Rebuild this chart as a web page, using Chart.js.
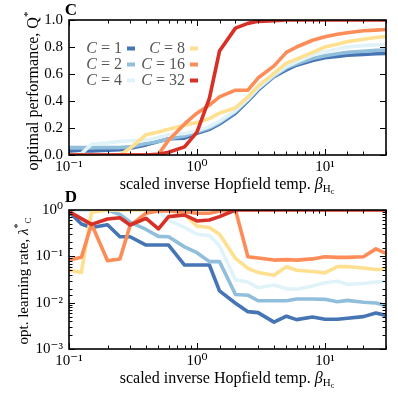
<!DOCTYPE html>
<html><head><meta charset="utf-8">
<script src="https://cdn.jsdelivr.net/npm/chart.js@4"></script>
<style>html,body{margin:0;padding:0;background:#fff;overflow:hidden;width:398px;height:398px}
canvas{position:absolute;left:0}</style></head>
<body>
<canvas id="c1" width="398" height="198" style="top:0px"></canvas>
<canvas id="c2" width="398" height="212" style="top:186px"></canvas>
<script>
// ---- data ----
const betaValues = [0.1,0.125,0.15,0.2,0.25,0.3,0.4,0.5,0.6,0.8,1,1.25,1.5,2,2.5,3,4,5,6,8,10,12.5,15,20,25,30];
const capacityLabels = ['1','2','4','8','16','32'];

const perfC1  = [0.03,0.03,0.03,0.035,0.04,0.05,0.075,0.10,0.12,0.125,0.16,0.19,0.23,0.31,0.40,0.48,0.58,0.63,0.665,0.70,0.72,0.73,0.74,0.745,0.75,0.753];
const perfC2  = [0.055,0.055,0.055,0.055,0.055,0.06,0.085,0.10,0.12,0.14,0.17,0.20,0.24,0.32,0.41,0.49,0.585,0.645,0.675,0.715,0.735,0.75,0.76,0.768,0.775,0.778];
const perfC4  = [0.0,0.01,0.08,0.09,0.10,0.105,0.11,0.13,0.15,0.16,0.18,0.21,0.25,0.33,0.415,0.495,0.595,0.655,0.69,0.74,0.765,0.785,0.80,0.81,0.815,0.82];
const perfC8  = [0,0,0,0,0,0.05,0.15,0.17,0.19,0.22,0.24,0.27,0.31,0.35,0.43,0.51,0.605,0.68,0.71,0.76,0.80,0.82,0.84,0.857,0.87,0.878];
const perfC16 = [0,0,0,0,0,0,0,0.005,0.11,0.23,0.31,0.37,0.43,0.48,0.48,0.57,0.66,0.76,0.80,0.85,0.876,0.895,0.906,0.92,0.925,0.93];
const perfC32 = [0,0,0,0,0,0,0,0.005,0.02,0.06,0.17,0.42,0.77,0.94,0.975,0.99,0.995,1,1,1,1,1,1,1,1,1];

const lrC1  = [0.92,0.5,0.42,0.48,0.265,0.265,0.175,0.175,0.175,0.065,0.065,0.065,0.018,0.0097,0.0064,0.0061,0.0038,0.0051,0.0043,0.0049,0.0044,0.0044,0.0046,0.005,0.006,0.0053];
const lrC2  = [1,1,1,1,0.8,0.55,0.38,0.27,0.265,0.16,0.12,0.077,0.077,0.015,0.0145,0.011,0.011,0.011,0.012,0.012,0.0118,0.0105,0.0112,0.0102,0.0098,0.0087];
const lrC4  = [1,1,1,1,1,1,1,0.95,0.6,0.42,0.3,0.28,0.17,0.031,0.028,0.021,0.024,0.02,0.0195,0.023,0.027,0.029,0.025,0.026,0.028,0.029];
const lrC8  = [0.05,0.045,0.9,1,1,1,1,1,1,0.8,0.45,0.42,0.3,0.09,0.055,0.045,0.039,0.06,0.05,0.047,0.044,0.06,0.06,0.056,0.052,0.053];
const lrC16 = [0.083,0.095,0.5,0.08,0.088,0.46,0.85,0.95,0.95,0.92,0.85,0.85,0.95,1,0.098,0.092,0.083,0.085,0.083,0.088,0.098,0.095,0.095,0.098,0.145,0.116];
const lrC32 = [0.92,0.65,0.49,0.64,0.68,0.475,0.66,0.39,0.72,0.78,0.58,0.61,0.72,1,1,1,1,1,1,1,1,1,1,1,1,1];

const perfSeries = [perfC1,perfC2,perfC4,perfC8,perfC16,perfC32];
const lrSeries = [lrC1,lrC2,lrC4,lrC8,lrC16,lrC32];

// ---- styles ----
const colors = ['#4575b4','#91bfdb','#e0f3f8','#fee090','#fc8d59','#d73027'];
const FONT = '"Liberation Serif", "DejaVu Serif", serif';
const SUP = {'-':'\u207B','0':'\u2070','1':'\u00B9','2':'\u00B2','3':'\u00B3'};

function isPow10(v){ const l = Math.log10(v); return Math.abs(l-Math.round(l))<1e-6; }
function powLabel(v){ const e = Math.round(Math.log10(v)); return '10' + String(e).split('').map(c=>SUP[c]).join(''); }

function makeDatasets(series){
  return series.map((arr,i)=>({
    label: 'C = ' + capacityLabels[i],
    data: betaValues.map((b,j)=>({x:b,y:arr[j]})),
    borderColor: colors[i],
    backgroundColor: colors[i],
    borderWidth: 3.6,
    pointRadius: 0,
    tension: 0,
    borderJoinStyle: 'round',
    borderCapStyle: 'butt',
    clip: 0,
    order: 5 - i
  }));
}

function fontOf(p){ return (p.it?'italic ':'')+(p.b?'bold ':'')+p.s+'px '+FONT; }
function measure(ctx, parts){
  let total=0;
  parts.forEach(p=>{ ctx.font=fontOf(p); p.w=ctx.measureText(p.t).width+(p.pl||0)+(p.pr||0); total+=p.w; });
  return total;
}
function drawParts(ctx, parts, x0){
  let cx=x0;
  parts.forEach(p=>{ ctx.font=fontOf(p); if(p.c) ctx.fillStyle=p.c; ctx.fillText(p.t,cx+(p.pl||0),p.dy||0); cx+=p.w; });
}
function drawRich(ctx, parts, x, y, rot){
  ctx.save();
  ctx.translate(x,y);
  if (rot) ctx.rotate(rot);
  ctx.textAlign='left'; ctx.textBaseline='alphabetic'; ctx.fillStyle='#000';
  const total=measure(ctx,parts);
  drawParts(ctx,parts,-total/2);
  ctx.restore();
}

const framePlugin = {
  id:'frameTicks',
  afterDatasetsDraw(chart){
    const {ctx, chartArea:a, scales} = chart;
    ctx.save();
    ctx.strokeStyle='#000'; ctx.lineWidth=1;
    const seg=(x1,y1,x2,y2)=>{ctx.beginPath();ctx.moveTo(x1,y1);ctx.lineTo(x2,y2);ctx.stroke();};
    const xs=scales.x, ys=scales.y;
    xs.ticks.forEach(t=>{
      const px=Math.round(xs.getPixelForValue(t.value))+0.5;
      if(px<a.left-0.5||px>a.right+0.5) return;
      const L=isPow10(t.value)?6:3.5;
      seg(px,a.bottom,px,a.bottom-L); seg(px,a.top,px,a.top+L);
    });
    const yLog = ys.type==='logarithmic';
    ys.ticks.forEach(t=>{
      const py=Math.round(ys.getPixelForValue(t.value))+0.5;
      if(py<a.top-0.5||py>a.bottom+0.5) return;
      const L=(!yLog||isPow10(t.value))?6:3.5;
      seg(a.left,py,a.left+L,py); seg(a.right,py,a.right-L,py);
    });
    ctx.lineWidth=1.6;
    ctx.strokeRect(a.left,a.top,a.right-a.left,a.bottom-a.top);
    ctx.restore();
  },
  afterDraw(chart, args, opts){
    const ctx=chart.ctx;
    opts.texts.forEach(tx=>drawRich(ctx, tx.parts, tx.x, tx.y, tx.rot));
    if(opts.legend){
      ctx.save();
      const cols=[122,185], rows=[48,64,80];
      chart.data.datasets.forEach((ds,i)=>{
        const cx=cols[Math.floor(i/3)], cy=rows[i%3];
        ctx.textBaseline='alphabetic'; ctx.textAlign='left';
        const parts=[{t:'C',it:true,s:16,c:'#555'},{t:'=',s:16,c:'#555',pl:4,pr:4},{t:capacityLabels[i],s:16,c:'#555'}];
        const total=measure(ctx,parts);
        ctx.save(); ctx.translate(0,cy+5); drawParts(ctx,parts,cx-total); ctx.restore();
        ctx.strokeStyle=ds.borderColor; ctx.lineWidth=4;
        ctx.beginPath(); ctx.moveTo(cx+5,cy+0.5); ctx.lineTo(cx+13,cy+0.5); ctx.stroke();
      });
      ctx.restore();
    }
  }
};

const tickFont = {family: FONT, size: 15};
function xScale(h){
  return {
    type:'logarithmic', min:0.1, max:30,
    grid:{display:false, drawTicks:false}, border:{display:false},
    ticks:{autoSkip:false, maxRotation:0, minRotation:0, padding:3, color:'#000', font:tickFont,
      callback:(v)=> isPow10(v)?powLabel(v):''},
    afterFit:(s)=>{ s.height=h; }
  };
}

const xTitle = [{t:'scaled inverse Hopfield temp. ',s:16},{t:'\u03B2',it:true,s:16},{t:'H',s:11,dy:3},{t:'c',s:8,dy:5}];

new Chart(document.getElementById('c1'),{
  type:'line',
  data:{datasets:makeDatasets(perfSeries)},
  options:{
    responsive:false, animation:false, devicePixelRatio:1,
    layout:{padding:{left:0,right:12,top:20,bottom:0}},
    plugins:{legend:{display:false}, tooltip:{enabled:false},
      frameTicks:{legend:true, texts:[
        {parts:[{t:'C',b:true,s:17}], x:71, y:15},
        {parts:xTitle, x:227, y:189},
        {parts:[{t:'optimal performance, Q',s:16},{t:'*',s:11,dy:-7}], x:38, y:91, rot:-Math.PI/2}
      ]}},
    scales:{
      x: xScale(43),
      y:{type:'linear',min:0,max:1,
        grid:{display:false, drawTicks:false}, border:{display:false},
        ticks:{stepSize:0.2, padding:6, color:'#000', font:tickFont, callback:(v)=>v.toFixed(1)},
        afterFit:(s)=>{ s.width=69; }}
    }
  },
  plugins:[framePlugin]
});

new Chart(document.getElementById('c2'),{
  type:'line',
  data:{datasets:makeDatasets(lrSeries)},
  options:{
    responsive:false, animation:false, devicePixelRatio:1,
    layout:{padding:{left:0,right:12,top:24,bottom:0}},
    plugins:{legend:{display:false}, tooltip:{enabled:false},
      frameTicks:{legend:false, texts:[
        {parts:[{t:'D',b:true,s:17}], x:71, y:16},
        {parts:xTitle, x:227, y:197},
        {parts:[{t:'opt. learning rate, ',s:15},{t:'\u03BB',it:true,s:15},{t:'*',s:10,dy:-7},{t:'C',s:9,dy:3}], x:28, y:95, rot:-Math.PI/2}
      ]}},
    scales:{
      x: xScale(49),
      y:{type:'logarithmic',min:0.001,max:1,
        grid:{display:false, drawTicks:false}, border:{display:false},
        ticks:{autoSkip:false, padding:6, color:'#000', font:tickFont, callback:(v)=> isPow10(v)?powLabel(v):''},
        afterFit:(s)=>{ s.width=69; }}
    }
  },
  plugins:[framePlugin]
});
</script>
</body></html>
